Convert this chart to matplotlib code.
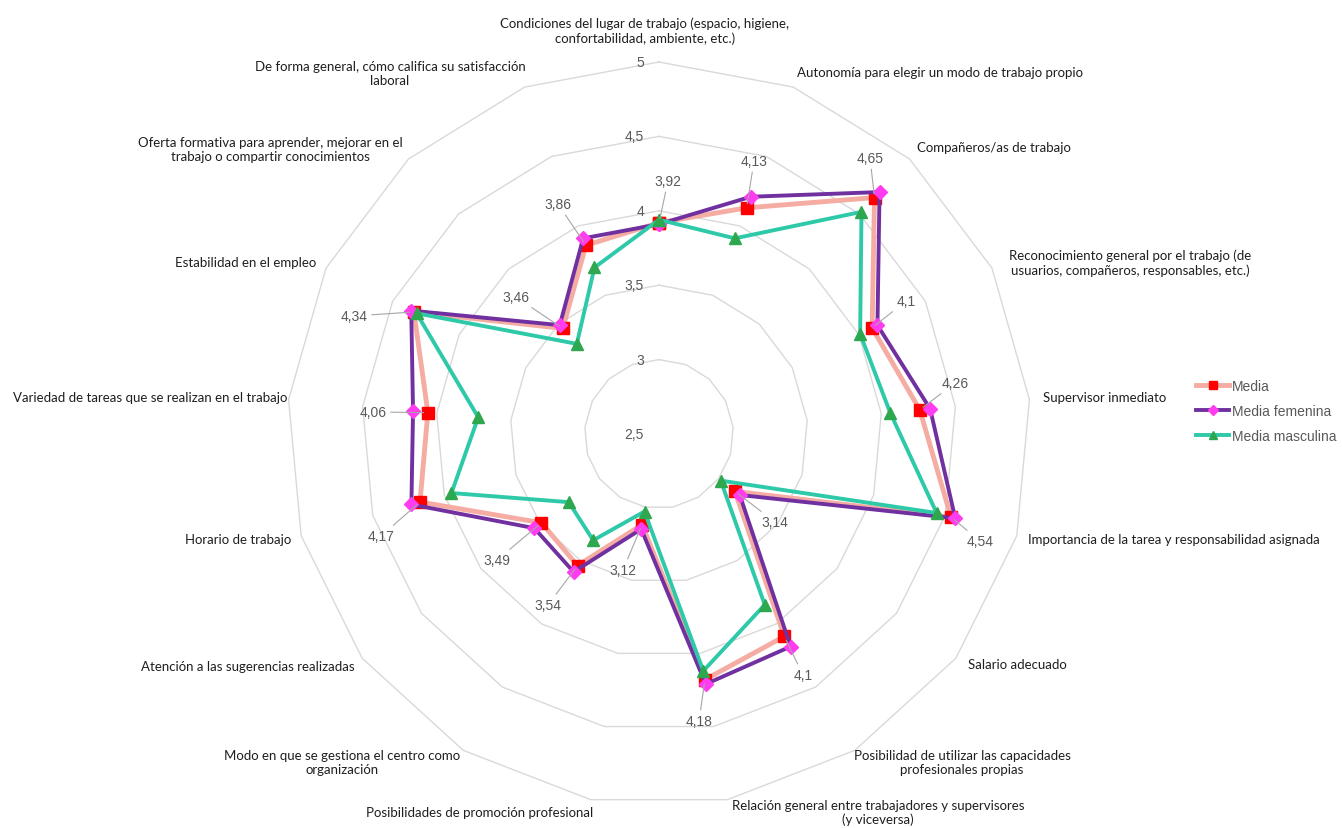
import numpy as np
import matplotlib.pyplot as plt

plt.rcParams['font.family'] = ['Liberation Sans', 'DejaVu Sans']

# categorias en sentido horario empezando arriba
categorias = [
    'Condiciones del lugar de trabajo (espacio, higiene,\nconfortabilidad, ambiente, etc.)',
    'Autonomía para elegir un modo de trabajo propio',
    'Compañeros/as de trabajo',
    'Reconocimiento general por el trabajo (de\nusuarios, compañeros, responsables, etc.)',
    'Supervisor inmediato',
    'Importancia de la tarea y responsabilidad asignada',
    'Salario adecuado',
    'Posibilidad de utilizar las capacidades\nprofesionales propias',
    'Relación general entre trabajadores y supervisores\n(y viceversa)',
    'Posibilidades de promoción profesional',
    'Modo en que se gestiona el centro como\norganización',
    'Atención a las sugerencias realizadas',
    'Horario de trabajo',
    'Variedad de tareas que se realizan en el trabajo',
    'Estabilidad en el empleo',
    'Oferta formativa para aprender, mejorar en el\ntrabajo o compartir conocimientos',
    'De forma general, cómo califica su satisfacción\nlaboral',
]

media = [3.92, 4.13, 4.65, 4.10, 4.26, 4.54, 3.14, 4.10, 4.18, 3.12, 3.54, 3.49, 4.17, 4.06, 4.34, 3.46, 3.86]
media_fem = [3.91, 4.21, 4.70, 4.14, 4.33, 4.57, 3.18, 4.18, 4.21, 3.15, 3.59, 3.55, 4.23, 4.16, 4.36, 3.49, 3.91]
media_masc = [3.94, 3.91, 4.52, 4.01, 4.06, 4.44, 3.02, 3.85, 4.12, 3.03, 3.34, 3.26, 3.95, 3.72, 4.32, 3.32, 3.70]

niveles = [2.5, 3, 3.5, 4, 4.5, 5]

# posiciones (px de la figura, desde arriba) de los textos
pos_categorias = [(645, 31), (940, 73), (994, 148), (1130, 263), (1105, 398), (1174, 540),
                  (1017, 665), (962, 763), (878, 813), (480, 813), (342, 763), (248, 667),
                  (238, 540), (150, 398), (246, 263), (270, 150), (390, 74)]
pos_etiquetas = [(668, 182), (754, 162), (870, 159), (906, 302), (955, 384), (980, 542),
                 (775, 523), (803, 676), (699, 722), (623, 571), (548, 606), (497, 561),
                 (381, 537), (373, 413), (354, 317), (516, 298), (558, 205)]

W, H = 1342, 829


def coma(v):
    return f'{v:g}'.replace('.', ',')


n = len(categorias)
theta = 2 * np.pi * np.arange(n) / n
theta_c = np.append(theta, theta[0])

fig = plt.figure(figsize=(W / 100, H / 100), dpi=100)
cx, cy, rad = 659, 435, 372
ax = fig.add_axes([(cx - rad) / W, (H - cy - rad) / H, 2 * rad / W, 2 * rad / H], projection='polar')
ax.set_theta_zero_location('N')
ax.set_theta_direction(-1)
ax.set_ylim(2.5, 5)
ax.set_xticks([])
ax.set_yticks([])
ax.grid(False)
ax.spines['polar'].set_visible(False)
ax.patch.set_alpha(0)

# rejilla poligonal
for lv in niveles[1:]:
    ax.plot(theta_c, [lv] * (n + 1), color='#d9d9d9', lw=1, zorder=0, clip_on=False)
for lv in niveles:
    ax.annotate(coma(lv), xy=(0, lv), xytext=(-15, 0), textcoords='offset pixels',
                ha='right', va='center', fontsize=10, color='#595959')


def cerrar(vals):
    return list(vals) + [vals[0]]


l1, = ax.plot(theta_c, cerrar(media), color='#f5aca2', lw=3.5, marker='s', ms=8,
              mfc='#ff0000', mec='#ff0000', zorder=3, clip_on=False, label='Media')
l2, = ax.plot(theta_c, cerrar(media_fem), color='#7030a0', lw=2.8, marker='D', ms=7,
              mfc='#ff3cf0', mec='#ff3cf0', zorder=4, clip_on=False, label='Media femenina')
l3, = ax.plot(theta_c, cerrar(media_masc), color='#2ec9a8', lw=2.8, marker='^', ms=8,
              mfc='#2ea84f', mec='#2ea84f', zorder=5, clip_on=False, label='Media masculina')

# etiquetas de la media con linea guia
for i in range(n):
    px, py = pos_etiquetas[i]
    ax.annotate(coma(media[i]), xy=(theta[i], media[i]), xytext=(px, H - py),
                textcoords='figure pixels', ha='center', va='center', fontsize=10,
                color='#595959', zorder=6,
                arrowprops=dict(arrowstyle='-', color='#a6a6a6', lw=0.8, shrinkA=1, shrinkB=3))

for txt, (px, py) in zip(categorias, pos_categorias):
    fig.text(px / W, 1 - py / H, txt, ha='center', va='center', fontsize=9.5,
             family=['Lato', 'DejaVu Sans'], color='#1f1f1f', linespacing=1.2)

fig.legend(handles=[l1, l2, l3], loc='center left', bbox_to_anchor=(1196 / W, 1 - 412 / H),
           frameon=False, fontsize=10, labelcolor='#595959', handlelength=2.4,
           handletextpad=0.2, labelspacing=0.8, borderpad=0, borderaxespad=0,
           markerscale=0.8)

fig.savefig('out.png', dpi=100)
